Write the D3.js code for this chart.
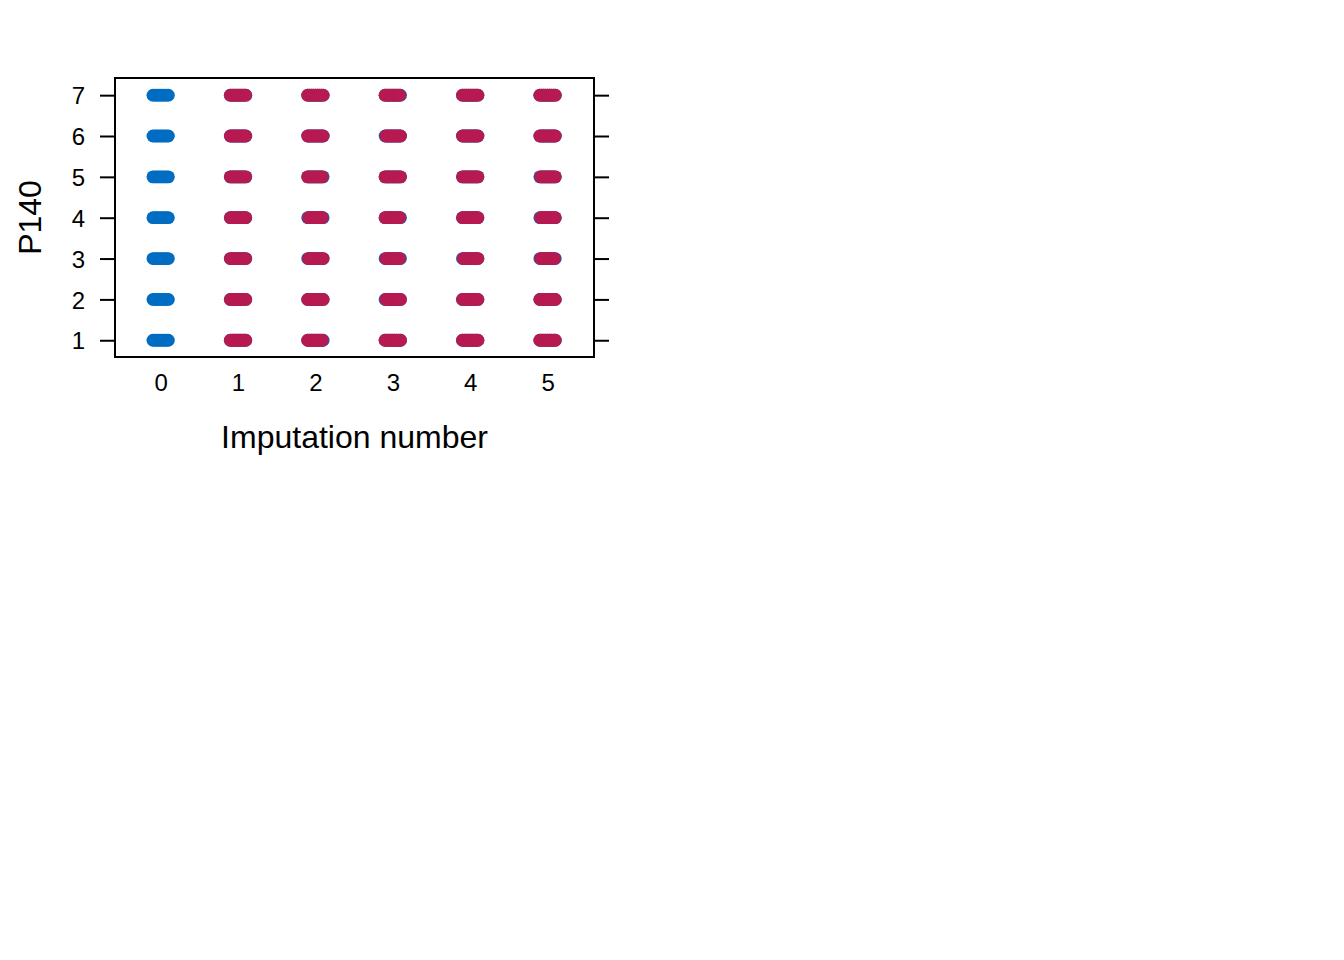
<!DOCTYPE html>
<html>
<head>
<meta charset="utf-8">
<script src="https://cdn.jsdelivr.net/npm/d3@7"></script>
<style>
  html, body { margin: 0; padding: 0; background: #fff; }
  svg { display: block; }
  text { font-family: "Liberation Sans", Arial, sans-serif; fill: #000; }
</style>
</head>
<body>
<svg id="chart" width="1344" height="960"></svg>
<script>
// ---- data ----
const imputations = [0, 1, 2, 3, 4, 5];
const values = [1, 2, 3, 4, 5, 6, 7];
const xTickLabels = ["0", "1", "2", "3", "4", "5"];
const yTickLabels = ["1", "2", "3", "4", "5", "6", "7"];
// horizontal jitter offsets (imputation-number units) of the points in each strip
const jitterOffsets = [-0.1, -0.075, -0.05, -0.025, 0, 0.025, 0.05, 0.075, 0.1];
// extent of the imputed (red) points in each strip, per imputation 1..5, rows = values 1..7
const imputedLo = [
  [-0.1, -0.1, -0.1, -0.1, -0.1, -0.1, -0.1],    // imp 1
  [-0.1, -0.1, -0.09, -0.09, -0.1, -0.1, -0.1],  // imp 2
  [-0.1, -0.09, -0.09, -0.1, -0.1, -0.09, -0.1], // imp 3
  [-0.1, -0.1, -0.09, -0.1, -0.1, -0.1, -0.1],   // imp 4
  [-0.1, -0.1, -0.09, -0.09, -0.09, -0.1, -0.1]  // imp 5
];
const imputedHi = [
  [0.1, 0.1, 0.1, 0.1, 0.1, 0.1, 0.1],
  [0.09, 0.1, 0.1, 0.09, 0.09, 0.1, 0.1],
  [0.1, 0.1, 0.09, 0.09, 0.1, 0.1, 0.09],
  [0.1, 0.1, 0.1, 0.1, 0.1, 0.1, 0.1],
  [0.1, 0.1, 0.09, 0.1, 0.1, 0.1, 0.1]
];
const xLabel = "Imputation number";
const yLabel = "P140";
const observedColor = "#006CC2";
const imputedColor = "#B61A51";

// ---- layout ----
const svg = d3.select("#chart");
const plot = { left: 115, top: 78, right: 594, bottom: 357 };
const x = d3.scaleLinear().domain([-0.59, 5.6]).range([plot.left, plot.right]);
const y = d3.scaleLinear().domain([0.59, 7.42]).range([plot.bottom, plot.top]);

// points: observed (all panels), then imputed on top
const obsPts = [];
imputations.forEach(imp => values.forEach(v => jitterOffsets.forEach(j => obsPts.push({ x: imp + j, y: v }))));
const impPts = [];
imputations.slice(1).forEach((imp, i) => values.forEach((v, k) => {
  jitterOffsets.forEach(j => {
    const lo = imputedLo[i][k], hi = imputedHi[i][k];
    const jj = lo + (j + 0.1) / 0.2 * (hi - lo);
    impPts.push({ x: imp + jj, y: v });
  });
}));

const g = svg.append("g");
const r = 6.4;
g.selectAll("circle.obs").data(obsPts).join("circle")
  .attr("class", "obs")
  .attr("cx", d => x(d.x)).attr("cy", d => y(d.y)).attr("r", r)
  .attr("fill", observedColor);
g.selectAll("circle.imp").data(impPts).join("circle")
  .attr("class", "imp")
  .attr("cx", d => x(d.x)).attr("cy", d => y(d.y)).attr("r", r)
  .attr("fill", imputedColor);

// frame
svg.append("rect")
  .attr("x", plot.left).attr("y", plot.top)
  .attr("width", plot.right - plot.left).attr("height", plot.bottom - plot.top)
  .attr("fill", "none").attr("stroke", "#000").attr("stroke-width", 2);

// left axis
const yAxisL = d3.axisLeft(y).tickValues(values).tickFormat((d, i) => yTickLabels[i]).tickSize(15).tickPadding(15);
const gl = svg.append("g").attr("transform", `translate(${plot.left},0)`).call(yAxisL);
gl.select(".domain").remove();
gl.selectAll(".tick line").attr("stroke", "#000").attr("stroke-width", 2);
gl.selectAll(".tick text").attr("font-size", 24).attr("font-family", "Liberation Sans, Arial, sans-serif").attr("dy", "0.36em");

// right axis ticks (no labels)
const yAxisR = d3.axisRight(y).tickValues(values).tickFormat("").tickSize(15);
const gr = svg.append("g").attr("transform", `translate(${plot.right},0)`).call(yAxisR);
gr.select(".domain").remove();
gr.selectAll(".tick line").attr("stroke", "#000").attr("stroke-width", 2);

// bottom axis labels (no tick marks)
const xAxis = d3.axisBottom(x).tickValues(imputations).tickFormat((d, i) => xTickLabels[i]).tickSize(0).tickPadding(17);
const gb = svg.append("g").attr("transform", `translate(0,${plot.bottom})`).call(xAxis);
gb.select(".domain").remove();
gb.selectAll(".tick text").attr("font-size", 24).attr("font-family", "Liberation Sans, Arial, sans-serif");

// axis titles
svg.append("text")
  .attr("x", (plot.left + plot.right) / 2).attr("y", 448)
  .attr("text-anchor", "middle").attr("font-size", 32)
  .text(xLabel);
svg.append("text")
  .attr("transform", `translate(41,${(plot.top + plot.bottom) / 2}) rotate(-90)`)
  .attr("text-anchor", "middle").attr("font-size", 32)
  .text(yLabel);
</script>
</body>
</html>
